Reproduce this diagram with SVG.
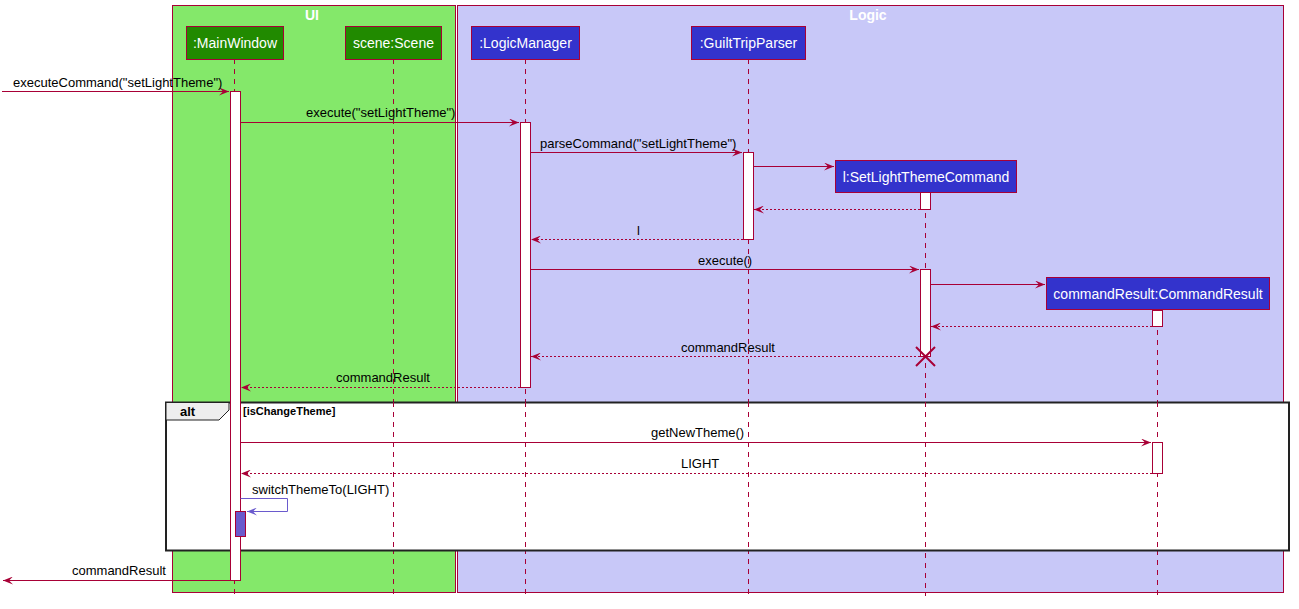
<svg xmlns="http://www.w3.org/2000/svg" width="1299" height="609" viewBox="0 0 1299 609">
<style>
.box{stroke:#A80036;stroke-width:1}
.title{font-family:"Liberation Sans",Arial,sans-serif;font-size:14px;font-weight:bold;fill:#FFFFFF;text-anchor:middle}
.pt{font-family:"Liberation Sans",Arial,sans-serif;font-size:14px;fill:#FFFFFF;text-anchor:middle}
.msg{font-family:"Liberation Sans",Arial,sans-serif;font-size:13px;fill:#000000}
.life{stroke:#A80036;stroke-width:1;stroke-dasharray:5,5;fill:none}
.act{fill:#FFFFFF;stroke:#A80036;stroke-width:1}
.line{stroke:#A80036;stroke-width:1;fill:none}
.dash{stroke:#A80036;stroke-width:1;stroke-dasharray:2,2;fill:none}
</style>
<defs>
<marker id="ah" viewBox="0 0 10 8" refX="10" refY="4" markerWidth="10" markerHeight="8" markerUnits="userSpaceOnUse" orient="auto">
<polygon points="0,0 10,4 0,8 4,4" fill="#A80036"/>
</marker>
<marker id="ahb" viewBox="0 0 10 8" refX="10" refY="4" markerWidth="10" markerHeight="8" markerUnits="userSpaceOnUse" orient="auto">
<polygon points="0,0 10,4 0,8 4,4" fill="#6A5ACD"/>
</marker>
</defs>
<g id="boxUI">
<rect x="172.5" y="5.5" width="283" height="587" fill="#84E86A" class="box"/>
<text x="312" y="20" class="title">UI</text>
</g>
<g id="boxLogic">
<rect x="457.5" y="5.5" width="826" height="587" fill="#C8C8F8" class="box"/>
<text x="868" y="20" class="title">Logic</text>
</g>
<g id="lifelines">
<line x1="234.5" y1="59" x2="234.5" y2="596" class="life"/>
<line x1="393.5" y1="59" x2="393.5" y2="596" class="life"/>
<line x1="525.5" y1="59" x2="525.5" y2="596" class="life"/>
<line x1="748.5" y1="59" x2="748.5" y2="596" class="life"/>
<line x1="925.5" y1="193" x2="925.5" y2="596" class="life"/>
<line x1="1157.5" y1="310" x2="1157.5" y2="596" class="life"/>
</g>
<g id="MainWindow">
<rect x="186.5" y="26.5" width="97" height="33" fill="#218A00" class="box" stroke-width="1.5"/>
<text x="235" y="48" class="pt">:MainWindow</text>
</g>
<g id="Scene">
<rect x="345.5" y="26.5" width="96" height="33" fill="#218A00" class="box" stroke-width="1.5"/>
<text x="393.5" y="48" class="pt">scene:Scene</text>
</g>
<g id="LogicManager">
<rect x="471.5" y="26.5" width="108" height="33" fill="#3333CC" class="box" stroke-width="1.5"/>
<text x="525.5" y="48" class="pt">:LogicManager</text>
</g>
<g id="GuiltTripParser">
<rect x="691.5" y="26.5" width="114" height="33" fill="#3333CC" class="box" stroke-width="1.5"/>
<text x="748.5" y="48" class="pt">:GuiltTripParser</text>
</g>
<g id="SetLightThemeCommand">
<rect x="835.5" y="160.5" width="181" height="32" fill="#3333CC" class="box" stroke-width="1.5"/>
<text x="926" y="182" class="pt">l:SetLightThemeCommand</text>
</g>
<g id="CommandResult">
<rect x="1046.5" y="277.5" width="223" height="32" fill="#3333CC" class="box" stroke-width="1.5"/>
<text x="1158" y="299" class="pt">commandResult:CommandResult</text>
</g>
<g id="alt">
<rect x="166" y="402.5" width="1123" height="148" fill="#FFFFFF" stroke="#222222" stroke-width="2"/>
<polygon points="166,402.5 229,402.5 229,410 219,420 166,420" fill="#EEEEEE" stroke="#222222" stroke-width="1"/>
<text x="180" y="416" font-family="'Liberation Sans',Arial,sans-serif" font-size="13" font-weight="bold">alt</text>
<text x="243" y="415" font-family="'Liberation Sans',Arial,sans-serif" font-size="11" font-weight="bold">[isChangeTheme]</text>
</g>
<g id="lifelines-over-alt">
<line x1="393.5" y1="402" x2="393.5" y2="552" class="life"/>
<line x1="525.5" y1="402" x2="525.5" y2="552" class="life"/>
<line x1="748.5" y1="402" x2="748.5" y2="552" class="life"/>
<line x1="925.5" y1="402" x2="925.5" y2="552" class="life"/>
<line x1="1157.5" y1="402" x2="1157.5" y2="552" class="life"/>
</g>
<g id="activations">
<rect x="230.5" y="91.5" width="10" height="489" class="act"/>
<rect x="520.5" y="122.5" width="10" height="265" class="act"/>
<rect x="743.5" y="152.5" width="10" height="87" class="act"/>
<rect x="920.5" y="192.5" width="10" height="17" class="act"/>
<rect x="920.5" y="269.5" width="10" height="87" class="act"/>
<rect x="1152.5" y="310.5" width="10" height="16" class="act"/>
<rect x="1152.5" y="442.5" width="10" height="31" class="act"/>
<rect x="235.5" y="511.5" width="10" height="25" fill="#6A5ACD" stroke="#A80036" stroke-width="1"/>
</g>
<g id="connectors">
<line x1="2" y1="91.5" x2="229" y2="91.5" class="line" marker-end="url(#ah)"/>
<text x="13" y="87" class="msg">executeCommand("setLightTheme")</text>
<line x1="240.5" y1="122.5" x2="519" y2="122.5" class="line" marker-end="url(#ah)"/>
<text x="306" y="117" class="msg">execute("setLightTheme")</text>
<line x1="530.5" y1="152.5" x2="742" y2="152.5" class="line" marker-end="url(#ah)"/>
<text x="540" y="148" class="msg">parseCommand("setLightTheme")</text>
<line x1="753.5" y1="166.5" x2="834" y2="166.5" class="line" marker-end="url(#ah)"/>
<line x1="920" y1="209.5" x2="754" y2="209.5" class="dash" marker-end="url(#ah)"/>
<line x1="743" y1="239.5" x2="531" y2="239.5" class="dash" marker-end="url(#ah)"/>
<text x="637" y="235" class="msg">l</text>
<line x1="530.5" y1="269.5" x2="919" y2="269.5" class="line" marker-end="url(#ah)"/>
<text x="698" y="265" class="msg">execute()</text>
<line x1="930.5" y1="284.5" x2="1045" y2="284.5" class="line" marker-end="url(#ah)"/>
<line x1="1152" y1="326.5" x2="931" y2="326.5" class="dash" marker-end="url(#ah)"/>
<line x1="920" y1="356.5" x2="531" y2="356.5" class="dash" marker-end="url(#ah)"/>
<text x="681" y="352" class="msg">commandResult</text>
<path d="M916,347 L935,366 M935,347 L916,366" stroke="#A80036" stroke-width="2" fill="none"/>
<line x1="520" y1="387.5" x2="241" y2="387.5" class="dash" marker-end="url(#ah)"/>
<text x="336" y="382" class="msg">commandResult</text>
<line x1="240.5" y1="442.5" x2="1151" y2="442.5" class="line" marker-end="url(#ah)"/>
<text x="651" y="437" class="msg">getNewTheme()</text>
<line x1="1152" y1="473.5" x2="241" y2="473.5" class="dash" marker-end="url(#ah)"/>
<text x="681" y="468" class="msg">LIGHT</text>
<path d="M240.5,498.5 L287.5,498.5 L287.5,511.5 L247,511.5" stroke="#6A5ACD" stroke-width="1" fill="none" marker-end="url(#ahb)"/>
<text x="252" y="494" class="msg">switchThemeTo(LIGHT)</text>
<line x1="230" y1="580.5" x2="3" y2="580.5" class="line" marker-end="url(#ah)"/>
<text x="72" y="575" class="msg">commandResult</text>
</g>
</svg>
